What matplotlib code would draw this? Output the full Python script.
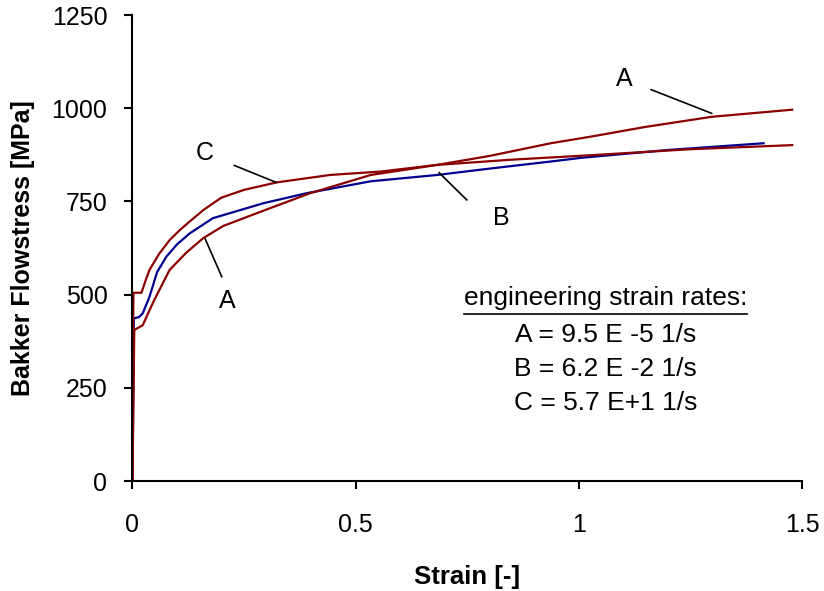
import matplotlib
matplotlib.use('Agg')
import matplotlib.pyplot as plt

plt.rcParams['font.family'] = ['Liberation Sans', 'DejaVu Sans']

# strain rate A = 9.5 E -5 1/s
strain_A = [0, 0.004, 0.023, 0.035, 0.049, 0.083, 0.12, 0.158, 0.203, 0.293, 0.398,
            0.534, 0.683, 0.8, 0.937, 1.028, 1.15, 1.298, 1.478]
stress_A = [0, 405, 418, 450, 486, 566, 612, 651, 684, 725, 772,
            821, 848, 872, 906, 924, 950, 977, 996]

# strain rate B = 6.2 E -2 1/s
strain_B = [0, 0.003, 0.015, 0.023, 0.038, 0.055, 0.076, 0.1, 0.128, 0.18, 0.293, 0.39,
            0.534, 0.683, 0.8, 0.937, 1.006, 1.2, 1.414]
stress_B = [0, 436, 440, 450, 494, 560, 602, 635, 664, 705, 745, 772,
            804, 821, 838, 857, 867, 888, 906]

# strain rate C = 5.7 E+1 1/s
strain_C = [0, 0.002, 0.02, 0.03, 0.038, 0.06, 0.083, 0.105, 0.128, 0.16, 0.199, 0.25,
            0.323, 0.443, 0.555, 0.683, 0.85, 1.028, 1.25, 1.478]
stress_C = [0, 505, 505, 540, 566, 610, 646, 672, 696, 728, 760, 781,
            801, 821, 830, 848, 862, 874, 890, 901]

legend_title = 'engineering strain rates:'
legend_lines = ['A = 9.5 E -5 1/s', 'B = 6.2 E -2 1/s', 'C = 5.7 E+1 1/s']

red = '#8B0000'
blue = '#000090'

fig = plt.figure(figsize=(8.24, 5.91), dpi=100)
ax = fig.add_axes([0.1608, 0.1861, 0.8125, 0.7885])

ax.plot(strain_B, stress_B, color=blue, lw=1.6)
ax.plot(strain_A, stress_A, color=red, lw=1.6)
ax.plot(strain_C, stress_C, color=red, lw=1.6)

ax.set_xlim(0, 1.5)
ax.set_ylim(0, 1250)
ax.set_xticks([0, 0.5, 1, 1.5])
ax.set_xticklabels(['0', '0.5', '1', '1.5'])
ax.set_yticks([0, 250, 500, 750, 1000, 1250])
ax.spines['top'].set_visible(False)
ax.spines['right'].set_visible(False)
for s in ['left', 'bottom']:
    ax.spines[s].set_linewidth(1.5)
ax.tick_params(direction='out', length=6, width=1.5, labelsize=18)
ax.tick_params(axis='y', pad=12)
ax.tick_params(axis='x', pad=17)

ax.set_xlabel('Strain [-]', fontsize=18.5, fontweight='bold', labelpad=20)
ax.set_ylabel('Bakker Flowstress [MPa]', fontsize=18, fontweight='bold', labelpad=12)

# curve labels with leader lines
lbl = dict(fontsize=18, ha='center', va='center')
ax.annotate('A', xy=(1.298, 986), xytext=(1.102, 1078), **lbl,
            arrowprops=dict(arrowstyle='-', color='black', lw=1.2, shrinkA=12, shrinkB=0))
ax.annotate('C', xy=(0.322, 801), xytext=(0.161, 879), **lbl,
            arrowprops=dict(arrowstyle='-', color='black', lw=1.2, shrinkA=14, shrinkB=0))
ax.annotate('A', xy=(0.200, 548), xytext=(0.212, 484), **lbl)
ax.plot([0.163, 0.200], [649, 548], color='black', lw=1.2)
ax.annotate('B', xy=(0.749, 754), xytext=(0.826, 705), **lbl)
ax.plot([0.687, 0.749], [827, 754], color='black', lw=1.2)

# strain-rate text box
ax.text(1.06, 492, legend_title, fontsize=19, ha='center', va='center')
ax.plot([0.743, 1.376], [448, 448], color='black', lw=1.2)
for i, line in enumerate(legend_lines):
    ax.text(1.06, 392 - i * 91, line, fontsize=19, ha='center', va='center')

fig.savefig('out.png', dpi=100)
